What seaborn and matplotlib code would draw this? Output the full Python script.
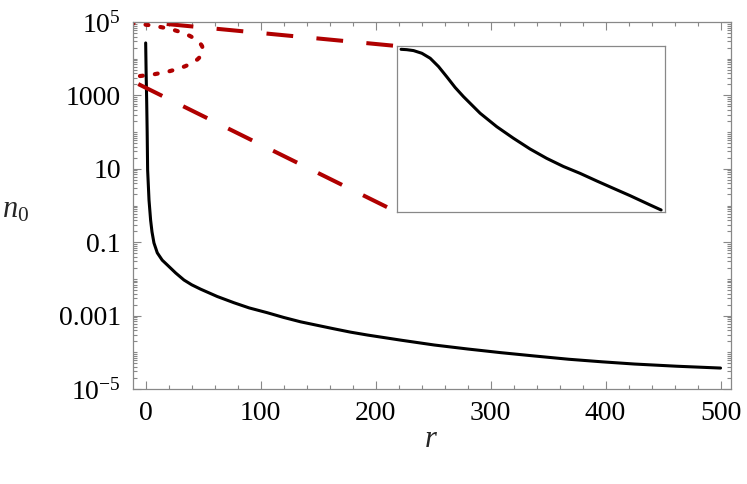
import numpy as np
import matplotlib
matplotlib.use('Agg')
import matplotlib.pyplot as plt
from matplotlib.patches import Ellipse
from matplotlib.ticker import FixedLocator, LogLocator, MultipleLocator, NullFormatter
import seaborn as sns

# main curve n0(r)
r = [0, 0.4, 0.9, 1.3, 1.7, 2.9, 4.3, 5.5, 7.2, 10.1, 14.4, 18.8, 26.1, 33.3, 40,
     47.8, 62.3, 76.8, 90, 105.7, 120, 134.8, 150, 163.7, 178, 193, 222, 251, 280,
     309, 338, 368, 397, 425, 462, 500]
n0 = [2.69e4, 3.98e3, 631, 100, 9.33, 1.41, 0.398, 0.191, 0.0955, 0.0513, 0.0324,
      0.0240, 0.0145, 9.33e-3, 6.92e-3, 5.25e-3, 3.31e-3, 2.24e-3, 1.62e-3, 1.20e-3,
      8.91e-4, 6.76e-4, 5.37e-4, 4.37e-4, 3.55e-4, 2.95e-4, 2.14e-4, 1.58e-4,
      1.23e-4, 9.77e-5, 7.94e-5, 6.46e-5, 5.50e-5, 4.79e-5, 4.17e-5, 3.72e-5]

# zoomed-in core shown in the inset (no ticks in the original)
inset_r = [0.0, 0.022, 0.048, 0.080, 0.112, 0.144, 0.176, 0.208, 0.240, 0.304, 0.368,
           0.432, 0.496, 0.560, 0.624, 0.688, 0.753, 0.816, 0.881, 0.957, 1.0]
inset_n0 = [26900, 26700, 26200, 24800, 22400, 18900, 15300, 12300, 10200, 7260, 5510,
            4350, 3490, 2880, 2440, 2120, 1810, 1560, 1340, 1110, 1000]

xticks = [0, 100, 200, 300, 400, 500]
yticks = [1e-5, 1e-3, 1e-1, 1e1, 1e3, 1e5]
ytick_labels = [r'$10^{-5}$', '0.001', '0.1', '10', '1000', r'$10^{5}$']

red = '#b00000'
frame = '#888888'

sns.set_style('ticks')
plt.rcParams['font.family'] = ['Liberation Serif', 'DejaVu Serif']
plt.rcParams['mathtext.fontset'] = 'custom'
plt.rcParams['mathtext.rm'] = 'Liberation Serif'
plt.rcParams['mathtext.it'] = 'Liberation Serif:italic'

fig = plt.figure(figsize=(7.47, 4.84), dpi=100)
ax = fig.add_axes([0.1787, 0.1963, 0.8005, 0.7582])

sns.lineplot(x=r, y=n0, ax=ax, color='black', lw=2.2)
ax.set_yscale('log')
ax.set_xlim(-10.6, 509.5)
ax.set_ylim(1e-5, 1e5)

ax.xaxis.set_major_locator(FixedLocator(xticks))
ax.xaxis.set_minor_locator(MultipleLocator(20))
ax.yaxis.set_major_locator(FixedLocator(yticks))
ax.set_yticklabels(ytick_labels)
ax.yaxis.set_minor_locator(LogLocator(base=10, subs=np.arange(1, 10), numticks=100))
ax.yaxis.set_minor_formatter(NullFormatter())

ax.tick_params(which='both', direction='in', top=True, right=True, color=frame,
               width=0.8, labelsize=20, labelcolor='black')
ax.tick_params(which='major', length=6, pad=9)
ax.tick_params(which='minor', length=3)
for s in ax.spines.values():
    s.set_color(frame)
    s.set_linewidth(0.9)

ax.set_xlabel(r'$r$', fontsize=22, va='center')
ax.xaxis.set_label_coords(0.4975, -0.139)
ax.set_ylabel(r'$n_0$', fontsize=22, rotation=0, ha='center', va='center')
ax.yaxis.set_label_coords(-0.198, 0.488)

# zoom marker: dotted ellipse round the core + dashed leaders to the inset
ell = Ellipse((-0.0393, 0.9237), 0.311, 0.150, transform=ax.transAxes, fill=False,
              edgecolor=red, lw=3, linestyle=(0, (0.7, 2.9)), capstyle='round')
ax.add_patch(ell)

ins_box = [0.4405, 0.4823, 0.4488, 0.4523]
ax.plot([0.0555, ins_box[0]], [0.9946, ins_box[1] + ins_box[3]], transform=ax.transAxes,
        color=red, lw=2.9, dashes=(6.65, 5.8))
ax.plot([0.008, ins_box[0]], [0.831, ins_box[1]], transform=ax.transAxes,
        color=red, lw=2.9, dashes=(6.65, 5.8))

axin = ax.inset_axes(ins_box)
sns.lineplot(x=inset_r, y=inset_n0, ax=axin, color='black', lw=2.2)
axin.set_yscale('log')
axin.set_xlim(-0.016, 1.016)
axin.set_ylim(10 ** 2.982, 10 ** 4.459)
axin.set_xticks([])
axin.set_yticks([])
axin.minorticks_off()
axin.set_xlabel('')
axin.set_ylabel('')
for s in axin.spines.values():
    s.set_color(frame)
    s.set_linewidth(0.9)

fig.savefig('out.png', dpi=100)
